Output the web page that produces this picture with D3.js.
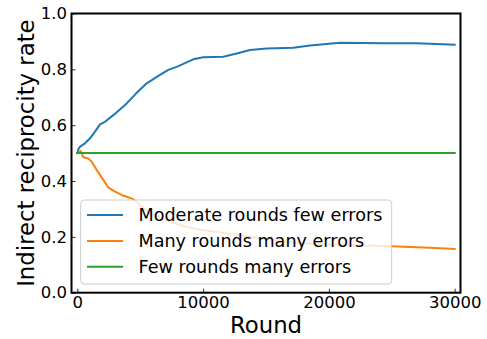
<!DOCTYPE html>
<html>
<head>
<meta charset="utf-8">
<script src="https://cdn.jsdelivr.net/npm/d3@7"></script>
<style>
  body { margin: 0; background: #fff; }
  svg { font-family: "DejaVu Sans", sans-serif; }
</style>
</head>
<body>
<main></main>
<script>
// values
const blueRounds = [0, 100, 215, 612, 1010, 1407, 1805, 2200, 2862, 3927, 4700, 5517, 6574, 7234, 7900, 9221, 10016, 11606, 12671, 13728, 15056, 17170, 18500, 20880, 24324, 26980, 30000];
const blueRate = [0.5, 0.515, 0.523, 0.535, 0.553, 0.577, 0.603, 0.612, 0.636, 0.678, 0.715, 0.75, 0.78, 0.798, 0.809, 0.836, 0.843, 0.845, 0.857, 0.869, 0.875, 0.877, 0.885, 0.895, 0.893, 0.893, 0.888];

const orangeRounds = [0, 270, 477, 875, 1145, 1542, 2067, 2464, 2997, 3530, 4451, 5100, 5779, 6500, 7369, 8500, 9754, 11876, 14523, 17170, 19000, 21145, 25000, 28000, 30000];
const orangeRate = [0.5, 0.507, 0.485, 0.481, 0.469, 0.44, 0.404, 0.377, 0.362, 0.35, 0.335, 0.31, 0.285, 0.268, 0.254, 0.238, 0.225, 0.213, 0.195, 0.18, 0.174, 0.171, 0.166, 0.161, 0.157];

const greenRounds = [0, 30000];
const greenRate = [0.5, 0.5];

const seriesNames = ["Moderate rounds few errors", "Many rounds many errors", "Few rounds many errors"];
const seriesColors = ["#1f77b4", "#ff7f0e", "#2ca02c"];

const xTicks = [0, 10000, 20000, 30000];
const yTicks = [0, 0.2, 0.4, 0.6, 0.8, 1.0];

const series = [
  blueRounds.map((r, i) => ({ x: r, y: blueRate[i] })),
  orangeRounds.map((r, i) => ({ x: r, y: orangeRate[i] })),
  greenRounds.map((r, i) => ({ x: r, y: greenRate[i] }))
];

const svg = d3.select("main").append("svg")
  .attr("width", 487).attr("height", 339);

const plotL = 71.5, plotR = 460.5, plotT = 13.5, plotB = 292.7;
const x = d3.scaleLinear().domain([-461, 30461]).range([plotL, plotR]);
const y = d3.scaleLinear().domain([0, 1]).range([plotB, plotT]);

const line = d3.line()
  .x(d => x(d.x))
  .y(d => y(d.y));

svg.append("g")
  .selectAll("path")
  .data(series)
  .join("path")
  .attr("fill", "none")
  .attr("stroke", (d, i) => seriesColors[i])
  .attr("stroke-width", 2)
  .attr("stroke-linejoin", "round")
  .attr("stroke-linecap", "square")
  .attr("d", line);

// axes, ticks pointing inward
const xAxis = svg.append("g")
  .attr("transform", `translate(0,${plotB})`)
  .call(d3.axisBottom(x).tickValues(xTicks).tickFormat(d3.format("d")).tickSize(-4).tickPadding(4));
const yAxis = svg.append("g")
  .attr("transform", `translate(${plotL},0)`)
  .call(d3.axisLeft(y).tickValues(yTicks).tickFormat(d3.format(".1f")).tickSize(-4).tickPadding(4.5));

[xAxis, yAxis].forEach(a => {
  a.select(".domain").remove();
  a.selectAll(".tick line").attr("stroke", "#000").attr("stroke-width", 0.8);
  a.selectAll(".tick text").attr("fill", "#000").style("font-size", "16.5px").style("font-family", "DejaVu Sans");
});

svg.append("rect")
  .attr("x", plotL).attr("y", plotT)
  .attr("width", plotR - plotL).attr("height", plotB - plotT)
  .attr("fill", "none").attr("stroke", "#000").attr("stroke-width", 2);

// legend
const lg = svg.append("g");
lg.append("rect")
  .attr("x", 80.7).attr("y", 200).attr("width", 311).attr("height", 84)
  .attr("rx", 3.5)
  .attr("fill", "#fff").attr("fill-opacity", 0.8)
  .attr("stroke", "#cccccc").attr("stroke-width", 1);

const rows = lg.selectAll("g.row")
  .data(seriesNames)
  .join("g")
  .attr("class", "row")
  .attr("transform", (d, i) => `translate(0,${215 + i * 25.9})`);
rows.append("line")
  .attr("x1", 87).attr("x2", 123)
  .attr("stroke", (d, i) => seriesColors[i])
  .attr("stroke-width", 2);
rows.append("text")
  .attr("x", 138.5).attr("dy", "0.36em")
  .style("font-size", "17.6px")
  .text(d => d);

// axis titles
svg.append("text")
  .attr("x", (plotL + plotR) / 2).attr("y", 333)
  .attr("text-anchor", "middle")
  .style("font-size", "22.8px")
  .text("Round");

svg.append("text")
  .attr("transform", `translate(33.5,${(plotT + plotB) / 2}) rotate(-90)`)
  .attr("text-anchor", "middle")
  .style("font-size", "22.8px")
  .text("Indirect reciprocity rate");
</script>
</body>
</html>
